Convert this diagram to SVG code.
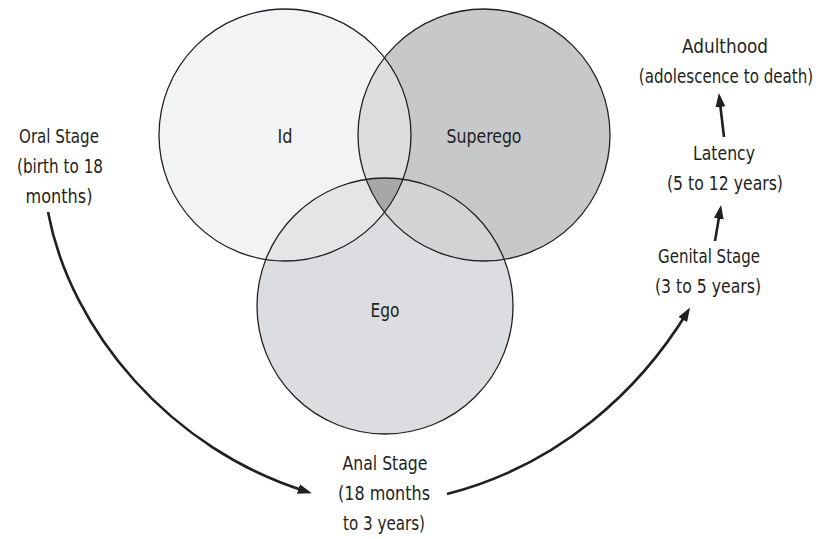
<svg xmlns="http://www.w3.org/2000/svg" width="824" height="539" viewBox="0 0 824 539">
<style>
.t{font-family:"DejaVu Sans Condensed","Liberation Sans",sans-serif;font-size:20px;fill:#231f20;text-anchor:middle}
.ring{fill:none;stroke:#231f20;stroke-width:1.3}
.arr{fill:none;stroke:#231f20;stroke-width:2.6;marker-end:url(#ah)}
</style>
<defs>
<marker id="ah" viewBox="0 0 14 10" refX="10" refY="5" markerWidth="14" markerHeight="10" markerUnits="userSpaceOnUse" orient="auto">
<path d="M0,0 L14,5 L0,10 Z" fill="#231f20"/>
</marker>
<clipPath id="cId"><circle cx="285" cy="135" r="126"/></clipPath>
<clipPath id="cSu"><circle cx="484" cy="135" r="126"/></clipPath>
</defs>
<rect width="824" height="539" fill="#ffffff"/>
<g id="id">
<circle cx="285" cy="135" r="126" fill="#f2f3f5"/>
</g>
<g id="superego">
<circle cx="484" cy="135" r="126" fill="#c7c8ca"/>
</g>
<g id="ego">
<circle cx="385" cy="306" r="128" fill="#dcdde0"/>
</g>
<g id="overlaps">
<circle cx="484" cy="135" r="126" fill="#dcdddf" clip-path="url(#cId)"/>
<circle cx="385" cy="306" r="128" fill="#e4e5e7" clip-path="url(#cId)"/>
<circle cx="385" cy="306" r="128" fill="#d2d3d5" clip-path="url(#cSu)"/>
<g clip-path="url(#cId)"><circle cx="385" cy="306" r="128" fill="#a6a7a9" clip-path="url(#cSu)"/></g>
</g>
<g id="outlines">
<circle class="ring" cx="285" cy="135" r="126"/>
<circle class="ring" cx="484" cy="135" r="126"/>
<circle class="ring" cx="385" cy="306" r="128"/>
</g>
<g id="labels-venn">
<text class="t" x="285" y="143" textLength="15" lengthAdjust="spacingAndGlyphs">Id</text>
<text class="t" x="484" y="143" textLength="75" lengthAdjust="spacingAndGlyphs">Superego</text>
<text class="t" x="385" y="317" textLength="29" lengthAdjust="spacingAndGlyphs">Ego</text>
</g>
<g id="oral">
<text class="t" x="59" y="143" textLength="80" lengthAdjust="spacingAndGlyphs">Oral Stage</text>
<text class="t" x="60" y="173" textLength="86" lengthAdjust="spacingAndGlyphs">(birth to 18</text>
<text class="t" x="59" y="203" textLength="67" lengthAdjust="spacingAndGlyphs">months)</text>
</g>
<g id="anal">
<text class="t" x="385" y="470" textLength="85" lengthAdjust="spacingAndGlyphs">Anal Stage</text>
<text class="t" x="384" y="500" textLength="92" lengthAdjust="spacingAndGlyphs">(18 months</text>
<text class="t" x="384" y="530" textLength="82" lengthAdjust="spacingAndGlyphs">to 3 years)</text>
</g>
<g id="genital">
<text class="t" x="709" y="263" textLength="102" lengthAdjust="spacingAndGlyphs">Genital Stage</text>
<text class="t" x="708" y="293" textLength="106" lengthAdjust="spacingAndGlyphs">(3 to 5 years)</text>
</g>
<g id="latency">
<text class="t" x="724" y="160" textLength="62" lengthAdjust="spacingAndGlyphs">Latency</text>
<text class="t" x="725" y="190" textLength="116" lengthAdjust="spacingAndGlyphs">(5 to 12 years)</text>
</g>
<g id="adulthood">
<text class="t" x="725" y="53" textLength="86" lengthAdjust="spacingAndGlyphs">Adulthood</text>
<text class="t" transform="translate(726,83) scale(0.84,1)">(adolescence to death)</text>
</g>
<g id="connectors">
<path class="arr" d="M48,212 C70,330 170,450 308,492"/>
<path class="arr" d="M447,494 C560,465 640,390 688,311"/>
<path class="arr" d="M715,241 L720.4,209"/>
<path class="arr" d="M724,137 L719.3,97"/>
</g>
</svg>
